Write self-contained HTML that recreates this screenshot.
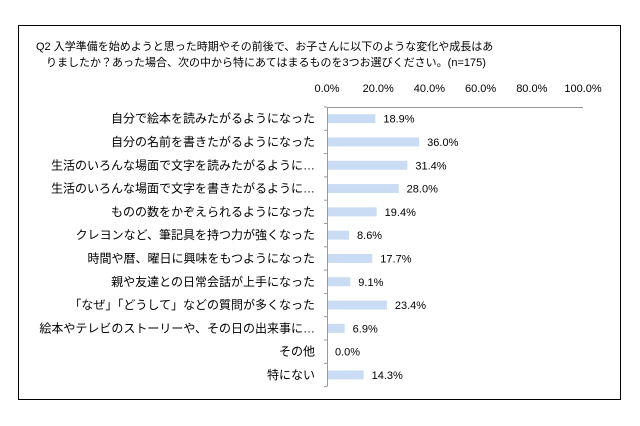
<!DOCTYPE html>
<html><head><meta charset="utf-8"><style>
body{margin:0;background:#fff;width:640px;height:426px;overflow:hidden;font-family:"Liberation Sans","Noto Sans CJK JP",sans-serif}
#chart{position:absolute;left:0;top:0}
</style></head><body>
<svg id="chart" width="640" height="426" xmlns="http://www.w3.org/2000/svg">
<rect x="18.5" y="25.5" width="602" height="374" fill="#fff" stroke="#000" stroke-width="1"/>
<text x="36" y="50" font-size="11" fill="#000">Q2 入学準備を始めようと思った時期やその前後で、お子さんに以下のような変化や成長はあ</text>
<text x="46" y="66" font-size="11" fill="#000">りましたか？あった場合、次の中から特にあてはまるものを3つお選びください。(n=175)</text>
<g id="axis"></g><g id="bars"></g>
</svg>
<script>
const categories=["自分で絵本を読みたがるようになった","自分の名前を書きたがるようになった","生活のいろんな場面で文字を読みたがるように…","生活のいろんな場面で文字を書きたがるように…","ものの数をかぞえられるようになった","クレヨンなど、筆記具を持つ力が強くなった","時間や暦、曜日に興味をもつようになった","親や友達との日常会話が上手になった","「なぜ」「どうして」などの質問が多くなった","絵本やテレビのストーリーや、その日の出来事に…","その他","特にない"];
const values=[18.9,36.0,31.4,28.0,19.4,8.6,17.7,9.1,23.4,6.9,0.0,14.3];
const ticks=[0,20,40,60,80,100];
const NS="http://www.w3.org/2000/svg";
const x0=327,x1=583,yTop=107,rowH=23.3;
const xs=v=>x0+(x1-x0)*v/100;
const yc=i=>yTop+rowH*(i+0.5);
function mk(tag,attrs,parent){const e=document.createElementNS(NS,tag);for(const k in attrs)e.setAttribute(k,attrs[k]);parent.appendChild(e);return e;}
const ax=document.getElementById('axis'),bg=document.getElementById('bars');
ticks.forEach(t=>{const e=mk('text',{x:xs(t),y:92,'font-size':11,'text-anchor':'middle',fill:'#000'},ax);


e.textContent=t.toFixed(1)+'%';});
const topLine=mk('line',{x1:x0,y1:yTop+0.5,x2:x1,y2:yTop+0.5,stroke:'#999'},ax);


const yl=mk('line',{x1:x0+0.5,y1:yTop,x2:x0+0.5,y2:yTop+rowH*categories.length,stroke:'#999'},ax);


for(let i=0;i<=categories.length;i++){const tk=mk('line',{x1:x0-3,y1:yTop+rowH*i,x2:x0,y2:yTop+rowH*i,stroke:'#999'},ax);

}
categories.forEach((c,i)=>{
const l=mk('text',{x:315,y:yc(i)+4,'font-size':12,'text-anchor':'end',fill:'#000'},ax);


l.textContent=c;
const b=mk('rect',{x:x0+1,y:yc(i)-4.5,width:Math.max(0,xs(values[i])-x0-1),height:9,fill:'#c9dcf4'},bg);


const v=mk('text',{x:xs(values[i])+8,y:yc(i)+4,'font-size':11,fill:'#000'},bg);


v.textContent=values[i].toFixed(1)+'%';});
</script>
</body></html>
